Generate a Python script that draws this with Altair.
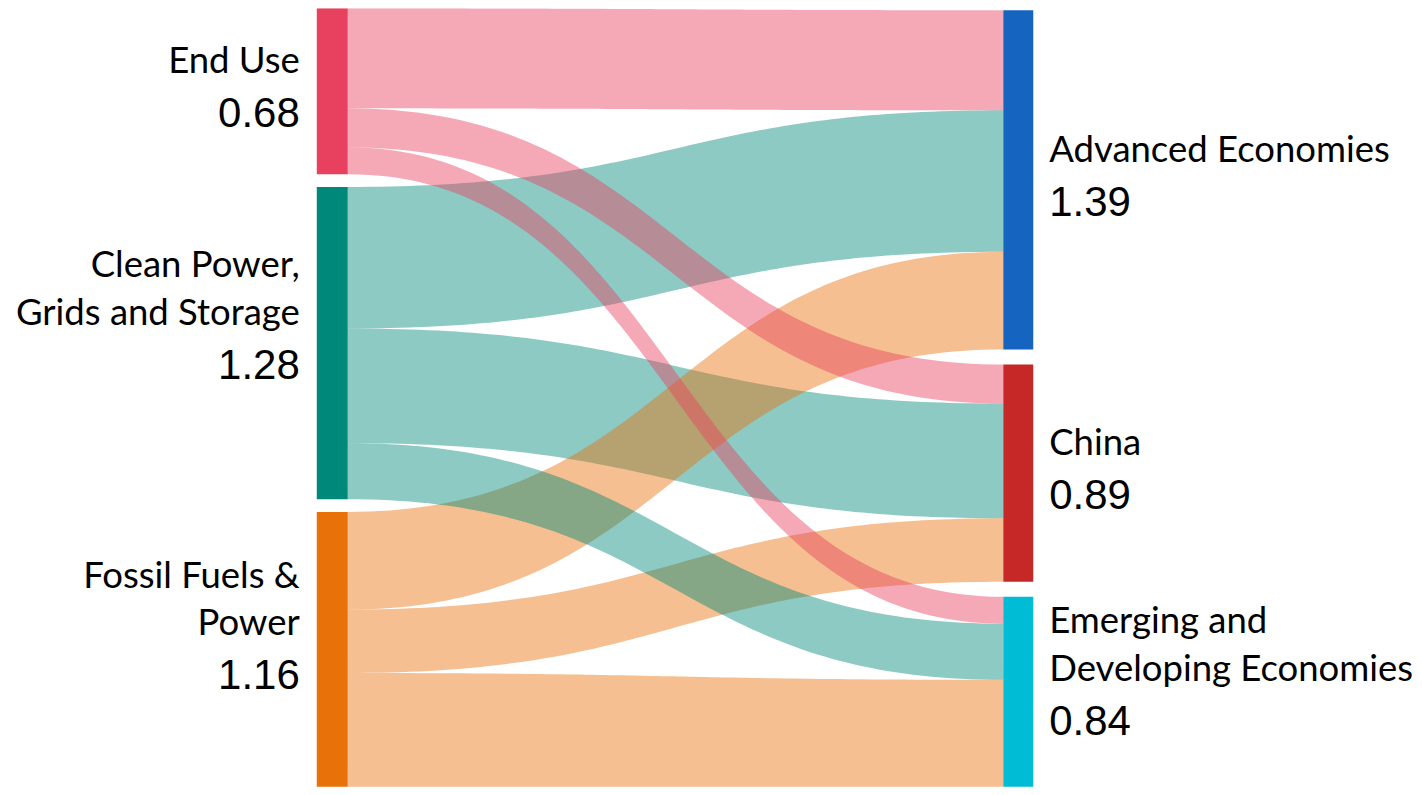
import altair as alt
import numpy as np
import pandas as pd

# ---------------- data ----------------
sources = ["End Use", "Clean Power", "Fossil Fuels"]
source_labels = [["End Use"], ["Clean Power,", "Grids and Storage"], ["Fossil Fuels &", "Power"]]
targets = ["Advanced Economies", "China", "Emerging"]
target_labels = [["Advanced Economies"], ["China"], ["Emerging and", "Developing Economies"]]

# flow values: source -> [Advanced, China, Emerging]
flow_end_use = [0.41, 0.16, 0.11]
flow_clean = [0.58, 0.47, 0.23]
flow_fossil = [0.40, 0.26, 0.50]
flows = [flow_end_use, flow_clean, flow_fossil]

source_colors = ["#E8405F", "#00897B", "#E8710A"]
target_colors = ["#1565C0", "#C62828", "#00BCD4"]

# drawing order of the links (source index, target index), bottom first
draw_order = [(1, 0), (1, 1), (2, 0), (2, 1), (1, 2), (2, 2), (0, 0), (0, 1), (0, 2)]

# ---------------- layout ----------------
W, H = 1406, 779
D_VIEW = 3.19          # value units shown over the plot height (bottom runs off, as in the source)
GAP_L = 0.052
GAP_R = 0.062
TOP_R = 0.008
XL0, XL1 = 309, 340
XR0, XR1 = 996, 1026

src_tot = [sum(f) for f in flows]
tgt_tot = [sum(flows[s][t] for s in range(3)) for t in range(3)]

src_y0 = []
y = 0.0
for v in src_tot:
    src_y0.append(y)
    y += v + GAP_L
tgt_y0 = []
y = TOP_R
for v in tgt_tot:
    tgt_y0.append(y)
    y += v + GAP_R

nodes = []
for i in range(3):
    lines = source_labels[i]
    nodes.append(dict(x0=XL0, x1=XL1, y0=src_y0[i], y1=src_y0[i] + src_tot[i],
                      col=source_colors[i], last=lines[-1],
                      prev=lines[-2] if len(lines) > 1 else "",
                      val=f"{src_tot[i]:.2f}", c=src_y0[i] + src_tot[i] / 2, side="L"))
for j in range(3):
    lines = target_labels[j]
    nodes.append(dict(x0=XR0, x1=XR1, y0=tgt_y0[j], y1=tgt_y0[j] + tgt_tot[j],
                      col=target_colors[j], last=lines[-1],
                      prev=lines[-2] if len(lines) > 1 else "",
                      val=f"{tgt_tot[j]:.2f}", c=tgt_y0[j] + tgt_tot[j] / 2, side="R"))
nodes_df = pd.DataFrame(nodes)

# link band positions (stacked at each node: by target at source, by source at target)
src_start = {}
tgt_start = {}
off = list(src_y0)
for s in range(3):
    for t in range(3):
        src_start[(s, t)] = off[s]
        off[s] += flows[s][t]
off = list(tgt_y0)
for t in range(3):
    for s in range(3):
        tgt_start[(s, t)] = off[t]
        off[t] += flows[s][t]

# band geometry (cubic bezier, as in a standard sankey)
rows = []
ts = np.linspace(0, 1, 90)
xm = (XL1 + XR0) / 2
for n, (s, t) in enumerate(draw_order):
    v = flows[s][t]
    ys0 = src_start[(s, t)]
    yt0 = tgt_start[(s, t)]
    for k, tt in enumerate(ts):
        bx = (1 - tt) ** 3 * XL1 + 3 * (1 - tt) ** 2 * tt * xm + 3 * (1 - tt) * tt ** 2 * xm + tt ** 3 * XR0
        h = 3 * tt ** 2 - 2 * tt ** 3
        ytop = ys0 + (yt0 - ys0) * h
        rows.append(dict(flow=f"f{n:02d}", k=k, x=float(bx), ya=float(ytop), yb=float(ytop + v),
                         col=source_colors[s]))
flows_df = pd.DataFrame(rows)

xs = alt.Scale(domain=[0, W], nice=False, zero=False)
ys = alt.Scale(domain=[0, D_VIEW], reverse=True, nice=False, zero=False)

bands = alt.Chart(flows_df).mark_area(opacity=0.45, interpolate="linear", clip=True).encode(
    x=alt.X("x:Q", scale=xs, axis=None),
    y=alt.Y("ya:Q", scale=ys, axis=None),
    y2="yb:Q",
    color=alt.Color("col:N", scale=None),
    detail="flow:N",
)

node_rects = alt.Chart(nodes_df).mark_rect(clip=True).encode(
    x=alt.X("x0:Q", scale=xs, axis=None),
    x2="x1:Q",
    y=alt.Y("y0:Q", scale=ys, axis=None),
    y2="y1:Q",
    color=alt.Color("col:N", scale=None),
)

name_font = dict(font="Lato", fontSize=36.5, color="#000000", baseline="alphabetic")
val_font = dict(font="Liberation Sans", fontSize=42, color="#000000", baseline="alphabetic", dy=36)

layers = [bands, node_rects]
for side, xpix, al in [("L", 292, "right"), ("R", 1042, "left")]:
    base = alt.Chart(nodes_df).transform_filter(f"datum.side == '{side}'")
    yenc = alt.Y("c:Q", scale=ys, axis=None)
    layers.append(base.mark_text(align=al, dy=-18, **name_font).encode(
        x=alt.value(xpix), y=yenc, text="last:N"))
    layers.append(base.transform_filter("datum.prev != ''").mark_text(align=al, dy=-66, **name_font).encode(
        x=alt.value(xpix), y=yenc, text="prev:N"))
    layers.append(base.mark_text(align=al, **val_font).encode(
        x=alt.value(xpix), y=yenc, text="val:N"))

chart = alt.layer(*layers).properties(
    width=W, height=H, padding=0, background="white"
).configure_view(stroke=None)

chart.save("out.html", embed_options={"renderer": "svg", "actions": False})
